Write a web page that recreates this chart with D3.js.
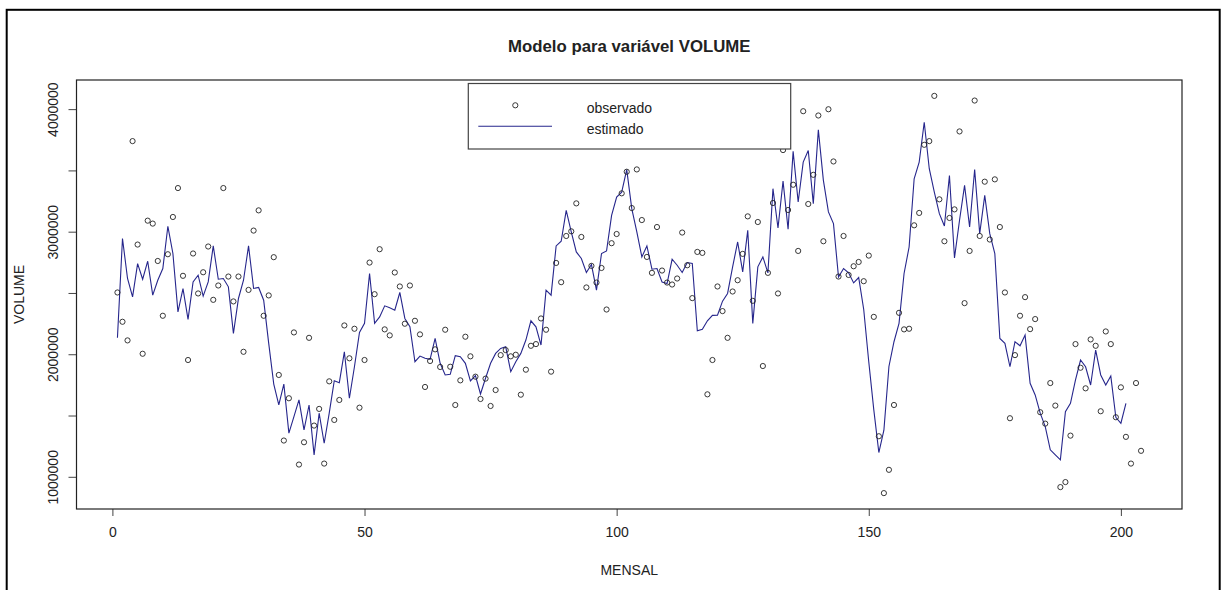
<!DOCTYPE html>
<html>
<head>
<meta charset="utf-8">
<script src="https://cdn.jsdelivr.net/npm/d3@7"></script>
<style>
  html, body { margin: 0; padding: 0; background: #fff; }
  svg { display: block; }
  text { font-family: "Liberation Sans", Arial, sans-serif; fill: #222; }
</style>
</head>
<body>
<svg id="chart" width="1221" height="590"></svg>
<script>
// Monthly observed volume (MENSAL 1..204)
const observado = [
  2504000, 2265000, 2113000, 3739000, 2895000, 2004000, 3090000, 3066000, 2761000, 2314000,
  2816000, 3120000, 3356000, 2640000, 1953000, 2822000, 2496000, 2669000, 2879000, 2444000,
  2561000, 3356000, 2634000, 2431000, 2634000, 2020000, 2525000, 3009000, 3174000, 2314000,
  2480000, 2792000, 1831000, 1296000, 1641000, 2178000, 1100000, 1282000, 2134000, 1418000,
  1554000, 1108000, 1779000, 1464000, 1627000, 2235000, 1967000, 2208000, 1564000, 1953000,
  2748000, 2490000, 2857000, 2203000, 2154000, 2667000, 2553000, 2249000, 2561000, 2273000,
  2162000, 1733000, 1945000, 2040000, 1896000, 2200000, 1898000, 1586000, 1787000, 2143000,
  1983000, 1817000, 1635000, 1801000, 1578000, 1708000, 1993000, 2034000, 1983000, 1996000,
  1670000, 1874000, 2069000, 2083000, 2292000, 2200000, 1858000, 2745000, 2588000, 2965000,
  3003000, 3231000, 2957000, 2545000, 2721000, 2585000, 2704000, 2365000, 2906000, 2981000,
  3313000, 3489000, 3193000, 3508000, 3095000, 2794000, 2664000, 3038000, 2683000, 2585000,
  2569000, 2618000, 2993000, 2726000, 2458000, 2835000, 2827000, 1673000, 1953000, 2553000,
  2352000, 2134000, 2512000, 2604000, 2819000, 3125000, 2436000, 3079000, 1904000, 2664000,
  3234000, 2496000, 3666000, 3177000, 3383000, 2843000, 3983000, 3226000, 3464000, 3948000,
  2922000, 3999000, 3573000, 2634000, 2965000, 2647000, 2718000, 2753000, 2596000, 2805000,
  2305000, 1331000,  867000, 1057000, 1586000, 2338000, 2203000, 2208000, 3052000, 3153000,
  3709000, 3739000, 4108000, 3264000, 2922000, 3112000, 3182000, 3818000, 2417000, 2843000,
  4070000, 2965000, 3408000, 2936000, 3427000, 3038000, 2504000, 1478000, 1993000, 2314000,
  2466000, 2205000, 2287000, 1527000, 1434000, 1765000, 1581000,  916000,  957000, 1336000,
  2083000, 1890000, 1722000, 2121000, 2069000, 1535000, 2186000, 2083000, 1486000, 1730000,
  1326000, 1108000, 1765000, 1212000
];

// Fitted model values (MENSAL 1..201)
const estimado = [
  2134000, 2944000, 2618000, 2468000, 2740000, 2612000, 2759000, 2482000, 2604000, 2699000,
  3044000, 2822000, 2346000, 2536000, 2284000, 2590000, 2645000, 2474000, 2590000, 2884000,
  2612000, 2618000, 2550000, 2170000, 2455000, 2604000, 2884000, 2537000, 2545000, 2441000,
  2089000, 1757000, 1586000, 1757000, 1356000, 1491000, 1627000, 1383000, 1586000, 1179000,
  1519000, 1274000, 1519000, 1784000, 1768000, 2020000, 1641000, 1898000, 2178000, 2252000,
  2659000, 2252000, 2305000, 2395000, 2379000, 2360000, 2504000, 2292000, 2224000, 1939000,
  1985000, 1967000, 1958000, 2129000, 1926000, 1831000, 1836000, 1988000, 1980000, 1926000,
  1782000, 1826000, 1676000, 1804000, 1926000, 2007000, 2048000, 2061000, 1858000, 1939000,
  2007000, 2116000, 2273000, 2224000, 2075000, 2523000, 2482000, 2884000, 2922000, 3174000,
  2998000, 2835000, 2781000, 2667000, 2732000, 2523000, 2822000, 2843000, 3133000, 3283000,
  3323000, 3506000, 3188000, 2998000, 2794000, 2884000, 2694000, 2699000, 2590000, 2577000,
  2775000, 2726000, 2667000, 2748000, 2740000, 2192000, 2203000, 2273000, 2317000, 2319000,
  2433000, 2496000, 2713000, 2916000, 2672000, 3011000, 2252000, 2713000, 2794000, 2664000,
  3351000, 3030000, 3413000, 3020000, 3655000, 3242000, 3568000, 3663000, 3229000, 3831000,
  3419000, 3161000, 3066000, 2630000, 2699000, 2664000, 2582000, 2626000, 2365000, 1939000,
  1546000, 1198000, 1380000, 1900000, 2102000, 2252000, 2659000, 2875000, 3432000, 3568000,
  3893000, 3514000, 3323000, 3147000, 3046000, 3459000, 2786000, 3093000, 3378000, 3038000,
  3508000, 2984000, 3296000, 2984000, 2822000, 2129000, 2089000, 1898000, 2102000, 2069000,
  2156000, 1763000, 1668000, 1519000, 1410000, 1220000, 1179000, 1138000, 1532000, 1600000,
  1790000, 1953000, 1898000, 1749000, 2034000, 1831000, 1749000, 1822000, 1486000, 1437000,
  1600000
];

const xTicks = [0, 50, 100, 150, 200];
const yTicks = [1000000, 1500000, 2000000, 2500000, 3000000, 3500000, 4000000];
const yTickLabels = ["1000000", "", "2000000", "", "3000000", "", "4000000"];

const titleText = "Modelo para variável VOLUME";
const xTitle = "MENSAL";
const yTitle = "VOLUME";
const legendLabels = ["observado", "estimado"];

const svg = d3.select("#chart");

// Plot region
const plotL = 76.5, plotR = 1182, plotT = 80, plotB = 509;

// Axis ranges padded 4% beyond the data, base-graphics style
const obsIdx = observado.map((_, i) => i + 1);
const estIdx = estimado.map((_, i) => i + 1);
const allY = observado.concat(estimado);
const xMin = 1, xMax = obsIdx.length;
const yMin = d3.min(allY), yMax = d3.max(allY);
const xPad = (xMax - xMin) * 0.04, yPad = (yMax - yMin) * 0.04;

const x = d3.scaleLinear().domain([xMin - xPad, xMax + xPad]).range([plotL, plotR]);
const y = d3.scaleLinear().domain([yMin - yPad, yMax + yPad]).range([plotB, plotT]);

// Outer frame
svg.append("rect")
  .attr("x", 6.7).attr("y", 9.8)
  .attr("width", 1213).attr("height", 700)
  .attr("fill", "none").attr("stroke", "#000").attr("stroke-width", 2);

// Title
svg.append("text")
  .attr("x", (plotL + plotR) / 2).attr("y", 52)
  .attr("text-anchor", "middle")
  .style("font-size", "16.8px").style("font-weight", "bold")
  .text(titleText);

// X axis
const xAxis = d3.axisBottom(x).tickValues(xTicks).tickSize(7).tickSizeOuter(0).tickPadding(11);
const gx = svg.append("g").attr("transform", `translate(0,${plotB})`).call(xAxis);
gx.select(".domain").remove();
gx.selectAll(".tick line").attr("stroke", "#444");
gx.selectAll(".tick text")
  .style("font-size", "14px").style("font-family", '"Liberation Sans", Arial, sans-serif')
  .attr("fill", "#222");

// Y axis with rotated labels
const yAxis = d3.axisLeft(y).tickValues(yTicks).tickSize(8).tickSizeOuter(0)
  .tickFormat((d, i) => yTickLabels[i]);
const gy = svg.append("g").attr("transform", `translate(${plotL},0)`).call(yAxis);
gy.select(".domain").remove();
gy.selectAll(".tick line").attr("stroke", "#444");
gy.selectAll(".tick text")
  .attr("x", null).attr("dy", null)
  .attr("transform", "translate(-19,0) rotate(-90)")
  .attr("text-anchor", "middle")
  .style("font-size", "14px").style("font-family", '"Liberation Sans", Arial, sans-serif')
  .attr("fill", "#222");

// Axis titles
svg.append("text")
  .attr("x", (plotL + plotR) / 2).attr("y", 575)
  .attr("text-anchor", "middle").style("font-size", "14px")
  .text(xTitle);
svg.append("text")
  .attr("transform", `translate(24,${(plotT + plotB) / 2}) rotate(-90)`)
  .attr("text-anchor", "middle").style("font-size", "14px")
  .text(yTitle);

// Fitted line
const line = d3.line().x((d, i) => x(estIdx[i])).y(d => y(d));
svg.append("path")
  .datum(estimado)
  .attr("d", line)
  .attr("fill", "none")
  .attr("stroke", "#26268c")
  .attr("stroke-width", 1.1)
  .attr("stroke-linejoin", "miter");

// Observed points
svg.append("g").selectAll("circle")
  .data(observado)
  .join("circle")
  .attr("cx", (d, i) => x(obsIdx[i]))
  .attr("cy", d => y(d))
  .attr("r", 2.6)
  .attr("fill", "none")
  .attr("stroke", "#222")
  .attr("stroke-width", 0.9);

// Plot box
svg.append("rect")
  .attr("x", plotL).attr("y", plotT)
  .attr("width", plotR - plotL).attr("height", plotB - plotT)
  .attr("fill", "none").attr("stroke", "#222").attr("stroke-width", 1.2);

// Legend
const lg = svg.append("g");
lg.append("rect")
  .attr("x", 468.3).attr("y", 83.5).attr("width", 322.4).attr("height", 65.5)
  .attr("fill", "#fff").attr("stroke", "#444").attr("stroke-width", 1.2);
lg.append("circle")
  .attr("cx", 515.3).attr("cy", 105.3).attr("r", 2.6)
  .attr("fill", "none").attr("stroke", "#222").attr("stroke-width", 0.9);
lg.append("line")
  .attr("x1", 478.3).attr("x2", 552).attr("y1", 126.3).attr("y2", 126.3)
  .attr("stroke", "#26268c").attr("stroke-width", 1.1);
lg.append("text").attr("x", 586.7).attr("y", 112.5).style("font-size", "14px").text(legendLabels[0]);
lg.append("text").attr("x", 586.7).attr("y", 134.3).style("font-size", "14px").text(legendLabels[1]);
</script>
</body>
</html>
